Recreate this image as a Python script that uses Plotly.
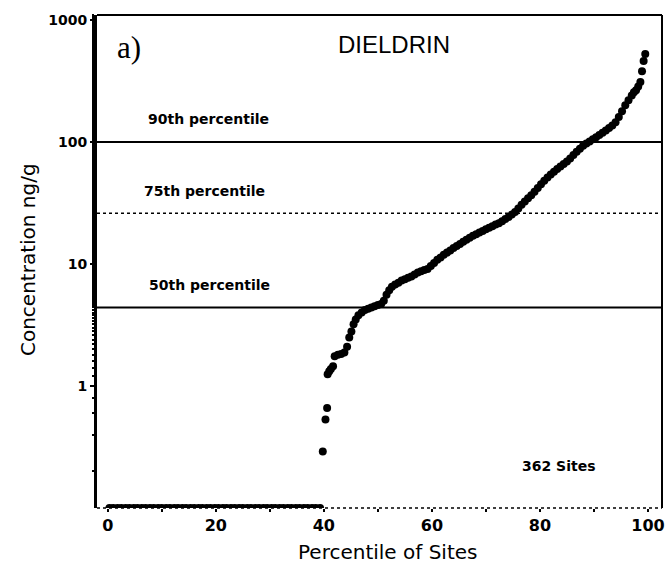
import plotly.graph_objects as go

# Site percentiles and dieldrin concentrations (ng/g) for sites with detected residues
detected_pct = [
    39.8, 40.3, 40.6, 40.7, 41.0, 41.3, 41.7, 42.0, 42.6, 43.2, 43.8, 44.3,
    44.7, 45.1, 45.5, 45.9, 46.4, 47.0, 47.6, 48.2, 48.8, 49.4, 50.0, 50.6,
    51.1, 51.6, 52.1, 52.6, 53.2, 53.8, 54.4, 55.0, 55.6, 56.2, 56.8, 57.4,
    58.0, 58.6, 59.2, 59.8, 60.4, 61.0, 61.6, 62.2, 62.8, 63.4, 64.0, 64.6,
    65.2, 65.8, 66.4, 67.0, 67.6, 68.2, 68.8, 69.4, 70.0, 70.6, 71.2, 71.8,
    72.4, 73.0, 73.6, 74.2, 74.8, 75.4, 76.0, 76.6, 77.2, 77.8, 78.4, 79.0,
    79.6, 80.2, 80.8, 81.4, 82.0, 82.6, 83.2, 83.8, 84.4, 85.0, 85.6, 86.2,
    86.8, 87.4, 88.0, 88.6, 89.2, 89.8, 90.4, 91.0, 91.6, 92.2, 92.8, 93.4,
    94.0, 94.6, 95.2, 95.8, 96.4, 97.0, 97.4, 97.8, 98.2, 98.6, 98.9, 99.2,
    99.5,
]
detected_conc = [
    0.29, 0.53, 0.66, 1.25, 1.32, 1.38, 1.45, 1.75, 1.80, 1.83, 1.88, 2.1,
    2.5, 2.8, 3.2, 3.5, 3.8, 4.0, 4.2, 4.3, 4.4, 4.5, 4.6, 4.7,
    5.0, 5.6, 6.1, 6.5, 6.8, 7.0, 7.3, 7.5, 7.7, 7.9, 8.2, 8.5,
    8.7, 8.9, 9.1, 9.6, 10.2, 10.8, 11.3, 11.9, 12.4, 12.9, 13.5, 14.0,
    14.6, 15.2, 15.8, 16.4, 17.0, 17.5, 18.1, 18.6, 19.2, 19.8, 20.4, 21.0,
    21.6, 22.4, 23.3, 24.3, 25.4, 26.6, 28.5, 30.5, 32.5, 34.5, 36.5, 39.0,
    42.0, 45.0, 48.0, 51.0, 54.0, 57.0, 60.0, 63.0, 66.0, 69.0, 73.0, 78.0,
    83.0, 88.0, 93.0, 97.0, 101.0, 105.0, 109.0, 114.0, 119.0, 124.0, 130.0, 136.0,
    145.0, 160.0, 178.0, 200.0, 220.0, 240.0, 255.0, 265.0, 285.0, 310.0, 380.0, 460.0,
    525.0,
]

# Sites below detection, plotted at the detection limit
nondetect_pct = [
    0.3, 1.0, 1.8, 2.5, 3.3, 4.0, 4.8, 5.5, 6.3, 7.0, 7.8, 8.5, 9.3, 10.0,
    10.8, 11.5, 12.3, 13.0, 13.8, 14.5, 15.3, 16.0, 16.8, 17.5, 18.3, 19.0,
    19.8, 20.5, 21.3, 22.0, 22.8, 23.5, 24.3, 25.0, 25.8, 26.5, 27.3, 28.0,
    28.8, 29.5, 30.3, 31.0, 31.8, 32.5, 33.3, 34.0, 34.8, 35.5, 36.3, 37.0,
    37.8, 38.5, 39.3,
]
DETECTION_LIMIT = 0.1

# Percentile reference levels (ng/g)
pct_labels = ["90th percentile", "75th percentile", "50th percentile"]
pct_values = [100.0, 26.0, 4.4]
pct_dash = ["solid", "dot", "solid"]
pct_width = [2, 1.5, 2]
pct_label_pos = [(18.6, 2.19), (17.9, 1.60), (18.8, 0.83)]

y_ticks = [1, 10, 100, 1000]
x_ticks = [0, 20, 40, 60, 80, 100]

SANS = "Liberation Sans, Arial, sans-serif"
WIDE = "DejaVu Sans, Verdana, sans-serif"

fig = go.Figure()

fig.add_trace(go.Scatter(
    x=nondetect_pct,
    y=[DETECTION_LIMIT for _ in nondetect_pct],
    mode="markers",
    marker=dict(color="black", size=8),
    cliponaxis=True,
    showlegend=False,
))
fig.add_trace(go.Scatter(
    x=detected_pct,
    y=detected_conc,
    mode="markers",
    marker=dict(color="black", size=8),
    cliponaxis=True,
    showlegend=False,
))

shapes = []
for val, dash, w in zip(pct_values, pct_dash, pct_width):
    shapes.append(dict(type="line", xref="paper", x0=0, x1=1, yref="y", y0=val, y1=val,
                       line=dict(color="black", width=w, dash=dash), layer="above"))
# frame: top and right solid, bottom dotted
shapes.append(dict(type="line", xref="paper", yref="paper", x0=0, x1=1, y0=1, y1=1,
                   line=dict(color="black", width=2), layer="above"))
shapes.append(dict(type="line", xref="paper", yref="paper", x0=1, x1=1, y0=0, y1=1,
                   line=dict(color="black", width=2), layer="above"))
shapes.append(dict(type="line", xref="paper", yref="paper", x0=0, x1=1, y0=0, y1=0,
                   line=dict(color="black", width=1.5, dash="dot"), layer="below"))

annotations = []
for txt, (ax, ay) in zip(pct_labels, pct_label_pos):
    annotations.append(dict(x=ax, y=ay, xref="x", yref="y", text="<b>" + txt + "</b>",
                            showarrow=False, font=dict(family=WIDE, size=14, color="black")))
annotations.append(dict(x=83.6, y=-0.656, xref="x", yref="y", text="<b>362 Sites</b>",
                        showarrow=False, font=dict(family=WIDE, size=14, color="black")))
annotations.append(dict(x=53.0, y=2.795, xref="x", yref="y", text="DIELDRIN",
                        showarrow=False, font=dict(family=SANS, size=24, color="black")))
annotations.append(dict(x=4.0, y=2.77, xref="x", yref="y", text="a)",
                        showarrow=False, font=dict(family="Liberation Serif, Times New Roman, serif",
                                                   size=31, color="black")))
annotations.append(dict(x=0, y=0.503, xref="paper", yref="paper", xshift=-69,
                        xanchor="center", yanchor="middle",
                        text="Concentration ng/g", textangle=-90, showarrow=False,
                        font=dict(family=WIDE, size=20, color="black")))
annotations.append(dict(x=0.514, y=0, xref="paper", yref="paper", yshift=-44,
                        xanchor="center", yanchor="middle",
                        text="Percentile of Sites", showarrow=False,
                        font=dict(family=WIDE, size=20, color="black")))

fig.update_layout(
    width=669, height=567,
    margin=dict(l=97, r=4, t=15, b=59),
    paper_bgcolor="white", plot_bgcolor="white",
    shapes=shapes, annotations=annotations,
    xaxis=dict(
        range=[-2.0, 102.6], tickvals=x_ticks, ticktext=["<b>%d</b>" % v for v in x_ticks],
        ticks="outside", ticklen=3, tickwidth=1.5, tickcolor="black",
        minor=dict(dtick=10, ticks="outside", ticklen=3, tickcolor="black"),
        showgrid=False, zeroline=False, showline=False,
        tickfont=dict(family=WIDE, size=16, color="black"),
    ),
    yaxis=dict(
        type="log", range=[-1.0, 3.04], tickvals=y_ticks,
        ticktext=["<b>%d</b>" % v for v in y_ticks],
        ticks="outside", ticklen=4, tickwidth=1.5, tickcolor="black",
        minor=dict(ticks="outside", ticklen=2, tickcolor="black", showgrid=False),
        showgrid=False, zeroline=False, showline=True, linewidth=3, linecolor="black",
        tickfont=dict(family=WIDE, size=14, color="black"),
    ),
)

fig.write_html("out.html")
